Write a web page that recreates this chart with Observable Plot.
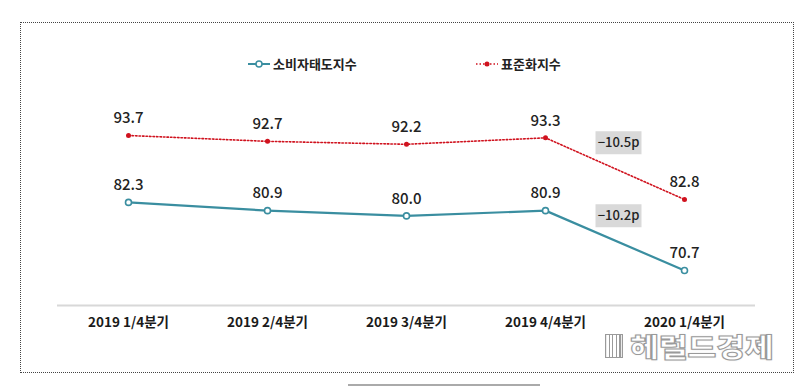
<!DOCTYPE html>
<html>
<head>
<meta charset="utf-8">
<script src="https://cdn.jsdelivr.net/npm/d3@7"></script>
<script src="https://cdn.jsdelivr.net/npm/@observablehq/plot@0.6"></script>
<style>
  html, body { margin: 0; padding: 0; background: #fff; }
  #wrap { position: relative; width: 807px; height: 388px; overflow: hidden;
          font-family: "Noto Sans CJK KR", sans-serif; }
  #frame { position: absolute; left: 20px; top: 22px; width: 774px; height: 351px;
           border: 1px dotted #444; box-sizing: border-box; }
  .leg { position: absolute; top: 54px; font-family: "Noto Sans CJK KR", sans-serif;
         font-weight: 700; font-size: 13px; color: #222; display: flex; align-items: center; }
  .leg svg { margin-right: 3px; }
  #wm { position: absolute; left: 605px; top: 333px; height: 25px; font-family: "Noto Sans CJK KR", sans-serif;
        font-weight: 900; font-size: 26px; color: #fff; -webkit-text-stroke: 1px #9a9a9a;
        text-shadow: 0 0 2px rgba(0,0,0,0.15);
        display: flex; align-items: center; line-height: 25px;
        transform: scaleX(1.2); transform-origin: left center; }
  #wm .ic { width: 15px; height: 24px; border: 1.5px solid #9a9a9a; margin-right: 6px; box-sizing: border-box;
            background: repeating-linear-gradient(90deg, #fff 0 2px, #9a9a9a 2px 3px); }
  #bl { position: absolute; left: 348px; top: 384px; width: 192px; height: 2px; background: #aaa; }
  svg text { font-family: "Noto Sans CJK KR", sans-serif; }
</style>
</head>
<body>
<div id="wrap">
  <div id="frame"></div>
  <div id="chart"></div>
  <div class="leg" style="left:248px">
    <svg width="22" height="10"><line x1="0" y1="5" x2="22" y2="5" stroke="#3a8ea0" stroke-width="2"/><circle cx="11" cy="5" r="3" fill="#fff" stroke="#3a8ea0" stroke-width="1.5"/></svg>소비자태도지수
  </div>
  <div class="leg" style="left:476px">
    <svg width="22" height="10"><line x1="0" y1="5" x2="22" y2="5" stroke="#d0121e" stroke-width="1.5" stroke-dasharray="1.5 2"/><circle cx="11" cy="5" r="2.5" fill="#d0121e"/></svg>표준화지수
  </div>
  <div id="wm"><span class="ic"></span>헤럴드경제</div>
  <div id="bl"></div>
</div>
<script>
const quarters = ["2019 1/4분기", "2019 2/4분기", "2019 3/4분기", "2019 4/4분기", "2020 1/4분기"];
const consumerIndex = [82.3, 80.9, 80.0, 80.9, 70.7];
const standardIndex = [93.7, 92.7, 92.2, 93.3, 82.8];
const changeLabels = ["−10.2p", "−10.5p"];
const baseline = 64.74;

const teal = "#3a8ea0";
const red = "#d0121e";

const cData = quarters.map((q, i) => ({q, v: consumerIndex[i]}));
const sData = quarters.map((q, i) => ({q, v: standardIndex[i]}));
const notes = [
  {q: quarters[3], v: consumerIndex[3], label: changeLabels[0]},
  {q: quarters[3], v: standardIndex[3], label: changeLabels[1]}
];

const boxSymbol = { draw(ctx) { ctx.rect(-23, -11.5, 46, 23); } };
const numFont = "Roboto, 'Noto Sans', sans-serif";

const chart = Plot.plot({
  width: 807,
  height: 388,
  marginLeft: 57,
  marginRight: 52,
  marginTop: 98,
  marginBottom: 83,
  style: { background: "transparent", overflow: "visible" },
  x: { type: "point", domain: quarters, padding: 0.5 },
  y: { domain: [baseline, 100], axis: null },
  marks: [
    Plot.ruleY([baseline], { stroke: "#d8d8d8", strokeWidth: 2 }),
    Plot.axisX({ tickSize: 0, tickPadding: 12, fontSize: 13.5, fontWeight: "bold", fill: "#1a1a1a", label: null }),
    Plot.dot(notes, { x: "q", y: "v", dx: 73, dy: 5, symbol: boxSymbol, fill: "#d9d9d9", stroke: "none" }),
    Plot.text(notes, { x: "q", y: "v", dx: 73, dy: 5, text: "label", fontSize: 13, fontWeight: 500, fontFamily: numFont, fill: "#222" }),
    Plot.line(sData, { x: "q", y: "v", stroke: red, strokeWidth: 1.6, strokeDasharray: "1.5 2" }),
    Plot.dot(sData, { x: "q", y: "v", r: 2.5, fill: red, stroke: "none" }),
    Plot.line(cData, { x: "q", y: "v", stroke: teal, strokeWidth: 2.2 }),
    Plot.dot(cData, { x: "q", y: "v", r: 3, fill: "#fff", stroke: teal, strokeWidth: 1.6 }),
    Plot.text(sData, { x: "q", y: "v", text: d => d.v.toFixed(1), dy: -17, fontSize: 15, fontWeight: 500, fontFamily: numFont, fill: "#222" }),
    Plot.text(cData, { x: "q", y: "v", text: d => d.v.toFixed(1), dy: -17, fontSize: 15, fontWeight: 500, fontFamily: numFont, fill: "#222" })
  ]
});
chart.style.position = "absolute";
chart.style.left = "0px";
chart.style.top = "0px";
document.getElementById("chart").appendChild(chart);
</script>
</body>
</html>
